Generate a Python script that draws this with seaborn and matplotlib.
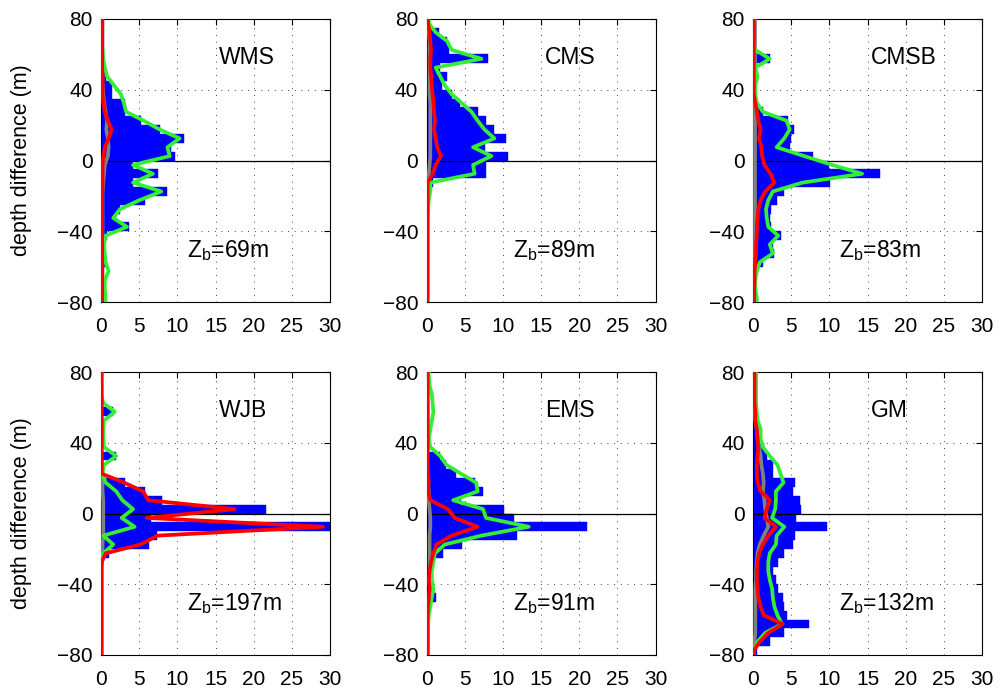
import numpy as np
import pandas as pd
import matplotlib
matplotlib.use("Agg")
import matplotlib.pyplot as plt
import seaborn as sns

# depth-difference bins (5 m), listed from top (+77.5) to bottom (-77.5)
depth = np.arange(77.5, -80, -5)

names = ["WMS", "CMS", "CMSB", "WJB", "EMS", "GM"]
zb = [69, 89, 83, 197, 91, 132]

# WMS
wms_bar = [0, 0, 0, 0, 0, 0, 0.7, 1.5, 1.5, 3.1, 3.1, 5.3, 7.7, 10.9, 9.2, 9.7,
           4.2, 7.5, 4.2, 8.7, 5.7, 2.5, 2.0, 3.7, 0.8, 0.5, 0.5, 0.6, 0.3, 0.2, 0.2, 0.2]
wms_green = [0, 0, 0, 0.2, 0.3, 0.5, 0.8, 1.7, 2.6, 3.0, 3.3, 5.6, 7.7, 10.3, 8.7, 9.0,
             4.2, 6.8, 4.2, 7.9, 5.0, 2.5, 1.6, 3.4, 0.6, 0.4, 0.5, 0.6, 1.0, 0.5, 0.5, 0.6]
wms_red = [0.15, 0.15, 0.15, 0.15, 0.15, 0.15, 0.2, 0.2, 0.2, 0.3, 0.5, 0.9, 1.4, 1.0, 0.5, 0.3,
           0.2, 0.2, 0.2, 0.15, 0.15, 0.15, 0.15, 0.15, 0.15, 0.15, 0.15, 0.15, 0.15, 0.15, 0.15, 0.15]
wms_gray = [0.2, 0.2, 0.2, 0.2, 0.2, 0.2, 0.2, 0.2, 0.3, 0.4, 0.6, 0.8, 0.7, 0.9, 1.0, 0.9,
            0.5, 0.4, 0.3, 0.2, 0.2, 0.2, 0.2, 0.2, 0.2, 0.2, 0.2, 0.2, 0.2, 0.2, 0.2, 0.2]

# CMS
cms_bar = [0.3, 1.6, 2.7, 3.0, 8.0, 1.8, 2.7, 2.0, 3.4, 4.4, 6.7, 7.8, 8.8, 10.4, 7.6, 10.7,
           7.8, 7.8, 0.8, 0.5, 0.3, 0.2, 0.1, 0.1, 0.1, 0.1, 0.1, 0.1, 0.1, 0.1, 0.1, 0.1]
cms_green = [0.3, 1.2, 2.7, 3.3, 7.2, 1.2, 1.8, 2.4, 3.3, 4.6, 5.9, 6.7, 7.6, 8.9, 6.1, 8.5,
             6.1, 6.3, 0.5, 0.5, 0.3, 0.2, 0.1, 0.1, 0.1, 0.1, 0.1, 0.1, 0.1, 0.1, 0.1, 0.1]
cms_red = [0.2, 0.4, 0.5, 0.6, 0.5, 0.5, 0.6, 0.7, 0.8, 0.9, 1.0, 1.1, 1.0, 1.2, 1.4, 1.9,
           1.2, 0.8, 0.15, 0.15, 0.15, 0.15, 0.15, 0.15, 0.15, 0.15, 0.15, 0.15, 0.15, 0.15, 0.15, 0.15]
cms_gray = [0.2, 0.3, 0.4, 0.4, 0.4, 0.4, 0.4, 0.4, 0.4, 0.5, 0.5, 0.5, 0.5, 0.5, 0.5, 0.5,
            0.4, 0.3, 0.2, 0.1, 0.1, 0.1, 0.1, 0.1, 0.1, 0.1, 0.1, 0.1, 0.1, 0.1, 0.1, 0.1]

# CMSB
cmsb_bar = [0, 0, 0, 0, 2.2, 0, 0, 0, 0, 0.3, 1.3, 4.6, 5.4, 5.0, 4.8, 7.9,
            10.0, 16.7, 10.1, 4.1, 3.1, 2.4, 2.2, 2.4, 3.7, 2.6, 2.8, 1.3, 0.5, 0.3, 0.2, 0.2]
cmsb_green = [0, 0, 0, 0.3, 2.2, 0.3, 0.6, 0.3, 0.3, 0.5, 1.3, 4.4, 4.8, 4.1, 3.1, 6.7,
              10.4, 14.3, 6.5, 2.6, 2.0, 1.7, 1.8, 2.0, 3.3, 2.2, 2.6, 0.9, 0.5, 0.3, 0.3, 0.5]
cmsb_red = [0.1, 0.1, 0.1, 0.1, 0.1, 0.1, 0.1, 0.1, 0.1, 0.3, 0.5, 0.7, 1.0, 0.8, 1.1, 1.2,
            1.5, 2.3, 2.8, 1.6, 1.0, 0.7, 0.6, 0.5, 0.5, 0.4, 0.4, 0.3, 0.2, 0.2, 0.15, 0.15]
cmsb_gray = [0.2, 0.2, 0.2, 0.2, 0.2, 0.2, 0.2, 0.2, 0.2, 0.2, 0.2, 0.2, 0.2, 0.2, 0.2, 0.2,
             0.2, 0.2, 0.2, 0.2, 0.2, 0.2, 0.2, 0.2, 0.2, 0.2, 0.2, 0.2, 0.2, 0.2, 0.2, 0.2]

# WJB
wjb_bar = [0, 0, 0, 0, 1.6, 0, 0, 0, 0, 2.0, 0, 0.3, 3.1, 5.7, 8.0, 21.6,
           6.5, 30.5, 7.4, 6.3, 1.0, 0, 0, 0, 0, 0, 0, 0, 0, 0, 0, 0]
wjb_green = [0, 0, 0, 0.3, 1.8, 0.4, 0.3, 0.3, 0.4, 2.0, 0.4, 0.2, 0.6, 2.0, 2.8, 4.2,
             2.7, 4.4, 0.3, 1.6, 0.3, 0.1, 0, 0, 0, 0, 0, 0, 0, 0, 0, 0]
wjb_red = [0.1, 0.1, 0.1, 0.1, 0.1, 0.1, 0.1, 0.1, 0.1, 0.1, 0.1, 0.1, 3.0, 5.5, 6.2, 17.5,
           6.0, 29.1, 7.4, 5.2, 0.6, 0.1, 0.1, 0.1, 0.1, 0.1, 0.1, 0.1, 0.1, 0.1, 0.1, 0.1]
wjb_gray = [0, 0, 0, 0, 0, 0, 0, 0, 0, 0, 0.1, 0.2, 0.2, 0.2, 0.3, 0.3,
            0.3, 0.3, 0.3, 0.2, 0.2, 0.1, 0, 0, 0, 0, 0, 0, 0, 0, 0, 0]

# EMS
ems_bar = [0.3, 0.3, 0.3, 0.3, 0.3, 0.3, 0.3, 0.3, 0.3, 1.8, 2.6, 3.9, 6.3, 7.4, 4.5, 10.2,
           11.4, 21.0, 11.9, 4.6, 2.2, 0.9, 0.6, 0.7, 0.7, 1.2, 0.3, 0.2, 0.1, 0.1, 0.1, 0.1]
ems_green = [0.3, 0.4, 0.7, 0.8, 0.9, 0.7, 0.5, 0.3, 0.5, 1.8, 2.6, 4.5, 6.5, 6.7, 3.5, 7.4,
             7.8, 13.4, 7.2, 2.4, 1.1, 0.9, 0.7, 0.7, 0.9, 0.7, 0.5, 0.3, 0.2, 0.2, 0.2, 0.2]
ems_red = [0.15, 0.15, 0.15, 0.15, 0.15, 0.15, 0.15, 0.15, 0.15, 0.15, 0.15, 0.2, 0.3, 0.2, 0.5, 2.8,
           3.7, 6.7, 3.3, 1.3, 0.9, 0.6, 0.4, 0.3, 0.4, 0.3, 0.2, 0.15, 0.15, 0.15, 0.15, 0.15]
ems_gray = [0.1, 0.1, 0.1, 0.1, 0.1, 0.1, 0.1, 0.1, 0.1, 0.1, 0.1, 0.1, 0.2, 0.3, 0.3, 0.4,
            0.5, 0.5, 0.4, 0.4, 0.4, 0.4, 0.4, 0.5, 0.5, 0.4, 0.3, 0.2, 0.1, 0.1, 0.1, 0.1]

# GM
gm_bar = [0.1, 0.1, 0.1, 0.1, 0.1, 0.7, 1.1, 0.9, 1.5, 1.8, 2.6, 2.6, 5.5, 5.2, 6.1, 6.3,
          5.6, 9.7, 5.5, 5.2, 4.1, 3.3, 2.6, 3.0, 3.3, 3.9, 4.1, 4.5, 7.3, 4.1, 2.2, 0.5]
gm_green = [0.4, 0.4, 0.4, 0.4, 0.5, 0.6, 1.0, 1.0, 1.3, 2.2, 3.2, 3.6, 4.0, 3.0, 3.0, 2.9,
            2.5, 4.1, 3.1, 3.0, 2.2, 2.0, 2.0, 2.2, 2.5, 2.6, 2.8, 3.2, 3.8, 1.6, 0.6, 0.1]
gm_red = [0.2, 0.2, 0.2, 0.2, 0.3, 0.3, 0.5, 0.6, 0.7, 0.6, 0.5, 0.5, 0.6, 1.0, 2.2, 1.8,
          1.5, 3.0, 2.0, 1.3, 0.8, 0.6, 0.5, 0.5, 0.6, 0.7, 1.0, 1.4, 3.9, 2.0, 0.9, 0.1]
gm_gray = [0.2, 0.2, 0.2, 0.2, 0.2, 0.3, 0.5, 0.6, 0.8, 1.0, 1.1, 1.3, 1.4, 1.3, 1.5, 1.6,
           1.8, 2.0, 1.4, 0.9, 0.6, 0.5, 0.4, 0.4, 0.3, 0.3, 0.3, 0.3, 0.3, 0.3, 0.2, 0.1]

bars = [wms_bar, cms_bar, cmsb_bar, wjb_bar, ems_bar, gm_bar]
greens = [wms_green, cms_green, cmsb_green, wjb_green, ems_green, gm_green]
reds = [wms_red, cms_red, cmsb_red, wjb_red, ems_red, gm_red]
grays = [wms_gray, cms_gray, cmsb_gray, wjb_gray, ems_gray, gm_gray]

sns.set_style("white")
plt.rcParams["font.family"] = ["Liberation Sans", "DejaVu Sans"]
plt.rcParams["mathtext.fontset"] = "custom"
plt.rcParams["mathtext.rm"] = "Liberation Sans"
plt.rcParams["axes.linewidth"] = 0.8
plt.rcParams["text.color"] = "black"
plt.rcParams["axes.labelcolor"] = "black"

fig = plt.figure(figsize=(9.99, 6.88), dpi=100)

# axes placement in pixels
lefts = [101, 426.5, 753]
tops = [19, 372]
w_px, h_px = 229, 283

line_depth = np.r_[80, depth, -80]


def extend(v):
    return np.r_[v[0], v, v[-1]]


for i, name in enumerate(names):
    r, c = divmod(i, 3)
    ax = fig.add_axes([lefts[c] / 999, 1 - (tops[r] + h_px) / 688, w_px / 999, h_px / 688])

    df = pd.DataFrame({"depth": depth, "count": bars[i]})
    sns.histplot(data=df, y="depth", weights="count", binwidth=5, binrange=(-80, 80),
                 color="#0000ff", alpha=1, edgecolor="#0000ff", linewidth=0.3,
                 ax=ax, zorder=1)

    ax.axhline(0, color="black", linewidth=0.9, zorder=2)

    lines = pd.DataFrame({
        "depth": line_depth,
        "gray": extend(grays[i]),
        "green": extend(greens[i]),
        "red": extend(reds[i]),
    })
    for col, colour, z in [("gray", "#808080", 3), ("green", "#33ee33", 4), ("red", "#ff0000", 5)]:
        sns.lineplot(data=lines, x=col, y="depth", orient="y", sort=False,
                     estimator=None, color=colour, linewidth=2.7, ax=ax, zorder=z)

    ax.set_xlim(0, 30)
    ax.set_ylim(-80, 80)
    ax.set_xticks(range(0, 31, 5))
    ax.set_yticks([-80, -40, 0, 40, 80])
    ax.set_axisbelow(True)
    ax.grid(True, color="black", linestyle=(0, (1, 7)), linewidth=0.6)
    ax.tick_params(direction="in", length=4, width=0.8, top=True, right=True,
                   labelsize=15, colors="black")
    ax.tick_params(axis="x", pad=11)
    ax.tick_params(axis="y", pad=6)
    for s in ax.spines.values():
        s.set_color("black")

    ax.set_xlabel("")
    if c == 0:
        ax.set_ylabel("depth difference (m)", fontsize=15.5)
        ax.yaxis.set_label_coords(-0.30, 0.5)
    else:
        ax.set_ylabel("")

    ax.text(15.5, 54.5, name, fontsize=16.5, ha="left", va="baseline")
    ax.text(11.3, -54.5, r"Z$_{\mathregular{b}}$=" + f"{zb[i]}m", fontsize=16.5,
            ha="left", va="baseline")

fig.savefig("out.png", dpi=100)
